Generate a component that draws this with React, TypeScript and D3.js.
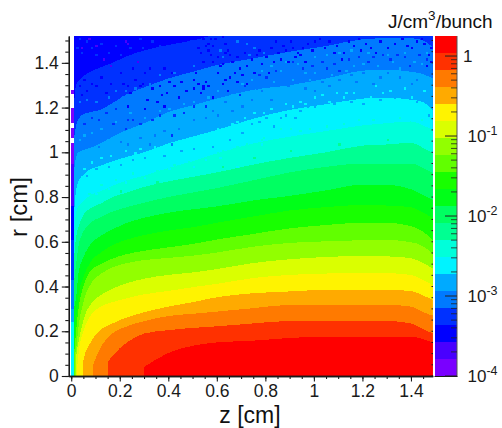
import { useEffect, useRef } from "react";
import * as d3 from "d3";

// 20 contour colours, lowest level first
const levelColors = [
  "#7a00ff", "#4900ff", "#0000ff", "#0031ff", "#007aff", "#00aaff", "#00f3ff", "#00ffda", "#00ff92", "#00ff61",
  "#00ff18", "#18ff00", "#61ff00", "#92ff00", "#daff00", "#fff300", "#ffaa00", "#ff7a00", "#ff3100", "#ff0000",
];

// z positions (cm) where the upper edge of each colour band was read
const zGrid = [0.01, 0.02, 0.03, 0.05, 0.08, 0.12, 0.17, 0.23, 0.3, 0.4, 0.5, 0.6, 0.75, 0.9, 1.05, 1.2, 1.3, 1.4, 1.45, 1.49];

// upper edge r (cm) of each band, 0 = band not reached yet
const top3 = [1.2, 1.3, 1.32, 1.34, 1.36, 1.38, 1.4, 1.43, 1.455, 1.48, 1.5, 1.53, 1.6, 1.6, 1.6, 1.6, 1.6, 1.6, 1.6, 1.6];
const top4 = [1.05, 1.12, 1.15, 1.17, 1.18, 1.19, 1.22, 1.26, 1.29, 1.33, 1.36, 1.39, 1.42, 1.45, 1.475, 1.505, 1.51, 1.51, 1.5, 1.47];
const top5 = [0.9, 0.98, 1, 1.01, 1.02, 1.04, 1.07, 1.1, 1.13, 1.18, 1.21, 1.24, 1.28, 1.3, 1.33, 1.365, 1.37, 1.36, 1.35, 1.33];
const top6 = [0.7, 0.83, 0.87, 0.9, 0.925, 0.94, 0.96, 0.98, 1, 1.04, 1.07, 1.1, 1.15, 1.19, 1.215, 1.24, 1.245, 1.235, 1.225, 1.19];
const top7 = [0.6, 0.73, 0.76, 0.78, 0.81, 0.825, 0.85, 0.875, 0.895, 0.93, 0.96, 0.995, 1.04, 1.07, 1.095, 1.12, 1.13, 1.138, 1.12, 1.1];
const top8 = [0.5, 0.62, 0.665, 0.72, 0.75, 0.77, 0.8, 0.82, 0.845, 0.87, 0.89, 0.91, 0.945, 0.975, 1, 1.03, 1.035, 1.042, 1.02, 0.997];
const top9 = [0.4, 0.5, 0.58, 0.645, 0.685, 0.71, 0.735, 0.755, 0.775, 0.8, 0.82, 0.84, 0.875, 0.91, 0.935, 0.95, 0.95, 0.95, 0.93, 0.908];
const top10 = [0.3, 0.35, 0.46, 0.53, 0.59, 0.625, 0.655, 0.685, 0.707, 0.73, 0.745, 0.758, 0.785, 0.805, 0.83, 0.855, 0.855, 0.835, 0.81, 0.787];
const top11 = [0, 0.25, 0.36, 0.44, 0.51, 0.55, 0.585, 0.61, 0.63, 0.65, 0.665, 0.685, 0.713, 0.74, 0.755, 0.765, 0.762, 0.755, 0.73, 0.707];
const top12 = [0, 0.2, 0.3, 0.4, 0.47, 0.5, 0.525, 0.545, 0.56, 0.575, 0.59, 0.61, 0.635, 0.66, 0.675, 0.685, 0.685, 0.67, 0.645, 0.608];
const top13 = [0, 0.12, 0.22, 0.33, 0.41, 0.455, 0.485, 0.505, 0.518, 0.528, 0.538, 0.552, 0.578, 0.595, 0.602, 0.607, 0.608, 0.598, 0.58, 0.545];
const top14 = [0, 0.08, 0.15, 0.25, 0.32, 0.36, 0.39, 0.415, 0.435, 0.452, 0.463, 0.478, 0.505, 0.522, 0.532, 0.537, 0.535, 0.527, 0.505, 0.48];
const top15 = [0, 0, 0.1, 0.2, 0.27, 0.31, 0.33, 0.348, 0.365, 0.38, 0.397, 0.412, 0.438, 0.452, 0.458, 0.462, 0.46, 0.452, 0.43, 0.405];
const top16 = [0, 0, 0, 0.07, 0.15, 0.205, 0.235, 0.262, 0.285, 0.31, 0.33, 0.352, 0.37, 0.378, 0.385, 0.385, 0.385, 0.38, 0.36, 0.34];
const top17 = [0, 0, 0, 0, 0, 0.125, 0.19, 0.222, 0.245, 0.268, 0.278, 0.288, 0.303, 0.318, 0.318, 0.318, 0.318, 0.31, 0.285, 0.27];
const top18 = [0, 0, 0, 0, 0, 0, 0.09, 0.15, 0.19, 0.205, 0.215, 0.222, 0.235, 0.246, 0.246, 0.246, 0.246, 0.235, 0.21, 0.19];
const top19 = [0, 0, 0, 0, 0, 0, 0, 0, 0, 0.103, 0.135, 0.15, 0.158, 0.17, 0.176, 0.176, 0.176, 0.176, 0.165, 0.15];

const bandLevels = [3, 4, 5, 6, 7, 8, 9, 10, 11, 12, 13, 14, 15, 16, 17, 18, 19];
const bandTops = [top3, top4, top5, top6, top7, top8, top9, top10, top11, top12, top13, top14, top15, top16, top17, top18, top19];

// where the warm bands rise off their left edge: z, r
const footZ = [0, 0, 0, 0, 0, 0, 0, 0, 0.01, 0.012, 0.015, 0.018, 0.025, 0.048, 0.09, 0.15, 0.3];
const footR = [0, 0, 0, 0, 0, 0, 0, 0, 0.15, 0.1, 0.1, 0.05, 0.04, 0.05, 0.05, 0.06, 0.04];

// first column (z 0 to 0.01): r from, r to, level
const firstColumn = [
  [0, 0.24, 6], [0.24, 0.3, 5], [0.3, 0.43, 4], [0.43, 0.61, 3], [0.61, 0.76, 2], [0.76, 0.95, 1], [0.95, 1.04, 0],
  [1.065, 1.11, 0], [1.13, 1.2, 0], [1.26, 1.28, 0],
];

// stray bins in the noisy upper part, as z, r pairs per level
const strayLevel1 = [0.22, 1.49, 0.23, 1.48, 0.27, 1.4, 0.1, 1.47, 0.07, 1.5, 0.13, 1.41, 0.16, 1.38, 0.04, 1.46];
const strayLevel2 = [
  0.54, 1.5, 0.57, 1.5, 0.59, 1.5, 0.62, 1.51, 0.63, 1.48, 0.56, 1.48, 0.58, 1.47, 0.64, 1.45, 0.63, 1.44, 0.57, 1.43,
  0.54, 1.4, 0.58, 1.4, 0.61, 1.38, 0.65, 1.43, 0.71, 1.44, 0.74, 1.41, 0.78, 1.39, 0.85, 1.44, 0.83, 1.4, 0.81, 1.35,
  0.86, 1.41, 0.9, 1.49, 0.93, 1.44, 0.94, 1.43, 0.84, 1.49, 0.96, 1.4, 1.02, 1.5, 1, 1.49, 1.09, 1.47, 1.12, 1.44,
  1.11, 1.41, 1.19, 1.45, 1.23, 1.46, 1.25, 1.44, 1.33, 1.48, 1.42, 1.49, 1.45, 1.48, 1.48, 1.46, 1.48, 1.4, 0.63, 1.32,
  0.65, 1.33, 0.55, 1.31, 0.54, 1.29, 0.58, 1.24, 0.72, 1.3, 0.67, 1.35, 0.75, 1.35, 0.57, 1.32, 0.56, 1.29, 0.2, 1.35,
  0.25, 1.37, 0.3, 1.35, 0.32, 1.37, 0.38, 1.37, 0.41, 1.35, 0.23, 1.29, 0.29, 1.3, 0.36, 1.29, 0.45, 1.31, 0.5, 1.32,
  0.54, 1.28, 0.39, 1.26, 0.3, 1.19, 0.38, 1.2, 0.23, 1.2, 0.52, 1.46, 0.53, 1.44, 0.55, 1.47, 0.56, 1.45, 0.6, 1.42,
  0.62, 1.39, 0.66, 1.4, 0.68, 1.42, 0.69, 1.37, 0.72, 1.38, 0.76, 1.43, 0.77, 1.45, 0.8, 1.42, 0.82, 1.46, 0.87, 1.47,
  0.88, 1.45, 0.89, 1.4, 0.91, 1.46, 0.92, 1.42, 0.95, 1.46, 0.97, 1.48, 0.99, 1.45, 1.04, 1.46, 1.06, 1.49, 1.08, 1.44,
  1.14, 1.49, 1.16, 1.47, 1.18, 1.5, 1.21, 1.48, 1.27, 1.49, 1.3, 1.46, 1.36, 1.5, 1.38, 1.47, 1.4, 1.46, 1.44, 1.5,
  1.47, 1.43, 1.46, 1.38, 0.6, 1.35, 0.62, 1.3, 0.64, 1.27, 0.68, 1.31, 0.7, 1.34, 0.52, 1.3, 0.53, 1.26, 0.51, 1.35,
  0.5, 1.28, 0.47, 1.27, 0.44, 1.24, 0.42, 1.29, 0.4, 1.31, 0.37, 1.25, 0.35, 1.22, 0.33, 1.28, 0.31, 1.23, 0.28, 1.29,
  0.26, 1.32, 0.24, 1.26, 0.21, 1.3, 0.16, 1.3, 0.14, 1.26, 0.12, 1.33, 0.1, 1.29, 0.08, 1.3, 0.06, 1.27, 0.05, 1.32,
  0.04, 1.25, 0.03, 1.29,
];
const strayLevel3 = [
  0.36, 1.47, 0.31, 1.44, 0.34, 1.41, 0.43, 1.44, 0.49, 1.49, 0.54, 1.46, 0.47, 1.38, 0.28, 1.5, 0.39, 1.43, 0.23, 1.14,
  0.25, 1.14, 0.41, 1.07, 0.45, 1.41, 0.47, 1.44, 0.5, 1.42, 0.52, 1.49, 0.41, 1.47, 0.37, 1.43, 0.33, 1.49, 0.29, 1.46,
  0.26, 1.42, 0.24, 1.46, 0.2, 1.43, 0.18, 1.47, 0.15, 1.44, 0.12, 1.48, 0.1, 1.43, 0.08, 1.46, 0.06, 1.49, 0.04, 1.44,
  0.03, 1.5, 0.02, 1.46, 0.91, 1.4, 0.95, 1.37, 0.99, 1.38, 1.03, 1.4, 1.05, 1.37, 1.08, 1.39, 1.1, 1.36, 1.14, 1.41,
  1.18, 1.42, 1.22, 1.4, 1.24, 1.42, 1.28, 1.43, 1.31, 1.41, 1.34, 1.43, 1.37, 1.42, 1.39, 1.38, 1.43, 1.43, 1.46, 1.41,
  0.69, 1.25, 0.71, 1.29, 0.77, 1.34, 0.8, 1.33, 0.84, 1.36, 0.55, 1.2, 0.5, 1.2, 0.46, 1.17, 0.42, 1.16, 0.36, 1.16,
  0.33, 1.14, 0.28, 1.12, 0.22, 1.1, 0.17, 1.12, 0.14, 1.17, 0.11, 1.14, 0.08, 1.15, 0.05, 1.12, 0.03, 1.17, 0.07, 1.2,
  0.12, 1.22, 0.18, 1.19,
];
const strayLevel4 = [
  1.17, 1.31, 1.27, 1.33, 1.4, 1.3, 0.66, 1.27, 0.76, 1.28, 0.85, 1.29, 0.82, 1.23, 0.74, 1.23, 0.63, 1.22, 0.78, 1.27,
  0.89, 1.29, 0.28, 1.26, 0.34, 1.26, 0.44, 1.32, 0.48, 1.3, 0.53, 1.33, 0.57, 1.32, 0.65, 1.35, 0.21, 1.24, 0.25, 1.23,
  0.41, 1.26, 0.23, 1.03, 0.32, 1.03, 0.41, 1.03, 0.55, 1.35, 0.6, 1.38, 0.62, 1.42, 0.66, 1.37, 0.7, 1.4, 0.73, 1.43,
  0.75, 1.46, 0.79, 1.44, 0.72, 1.48, 0.68, 1.49, 0.61, 1.45, 0.5, 1.38, 0.47, 1.33, 0.42, 1.35, 0.38, 1.31, 0.36, 1.34,
  0.32, 1.3, 0.26, 1.28, 0.22, 1.27, 0.15, 1.24, 0.18, 1.27, 0.1, 1.22, 0.06, 1.23, 0.03, 1.22, 0.96, 1.28, 1, 1.27,
  1.03, 1.31, 1.06, 1.29, 1.1, 1.32, 1.15, 1.34, 1.2, 1.35, 1.24, 1.3, 1.3, 1.35, 1.35, 1.33, 1.42, 1.32, 1.46, 1.34,
  0.7, 1.2, 0.66, 1.18, 0.6, 1.16, 0.58, 1.18, 0.55, 1.15, 0.5, 1.14, 0.44, 1.1, 0.38, 1.09, 0.34, 1.07, 0.28, 1.06,
  0.2, 1.04, 0.15, 1.06, 0.11, 1.02, 0.07, 1.05, 0.05, 1.02,
];
const strayLevel5 = [
  1.16, 1.38, 1.2, 1.39, 1.26, 1.38, 1.32, 1.4, 1.35, 1.37, 1.13, 1.36, 1.07, 1.34, 1, 1.35, 0.96, 1.35, 0.86, 1.36,
  1.41, 1.4, 1.44, 1.39, 0.98, 1.32, 0.91, 1.32, 0.83, 1.31, 0.92, 1.15, 0.86, 1.15, 0.97, 1.2, 1.03, 1.21, 0.77, 1.13,
  0.83, 1.11, 0.57, 1.12, 0.54, 1.14, 0.32, 1.12, 0.35, 1.1, 0.21, 1.07, 0.45, 1.07, 0.38, 1.13, 0.53, 1.16, 0.7, 1.3,
  0.74, 1.32, 0.78, 1.36, 0.82, 1.38, 0.88, 1.4, 0.93, 1.39, 1, 1.42, 1.05, 1.43, 1.1, 1.44, 1.15, 1.45, 1.22, 1.44,
  1.3, 1.43, 1.37, 1.44, 1.46, 1.44, 0.66, 1.25, 0.6, 1.27, 0.56, 1.24, 0.5, 1.22, 0.46, 1.21, 0.4, 1.19, 0.36, 1.18,
  0.3, 1.15, 0.24, 1.17, 0.18, 1.13, 0.12, 1.1, 0.08, 1.08, 0.05, 1.07, 0.03, 1.05, 0.65, 1.05, 0.7, 1.08, 0.74, 1.12,
  0.8, 1.15, 0.88, 1.16, 0.94, 1.18, 1, 1.2, 1.08, 1.21, 1.15, 1.22, 1.2, 1.21, 1.27, 1.23, 1.33, 1.24, 1.42, 1.22,
  1.47, 1.16, 0.58, 1.02, 0.5, 1.01, 0.45, 1, 0.38, 0.98, 0.3, 0.97, 0.25, 0.96, 0.2, 0.94, 0.15, 0.93, 0.1, 0.92,
  0.06, 0.89,
];
const strayLevel6 = [
  1.31, 1.27, 1.28, 1.26, 1.12, 1.24, 1.13, 1.26, 1.2, 1.23, 1.23, 1.24, 1.35, 1.23, 1.4, 1.24, 1, 1.24, 1.06, 1.22,
  0.91, 1.2, 0.96, 1.21, 0.86, 1.17, 0.79, 1.17, 0.71, 1.15, 0.63, 1.1, 0.58, 1.07, 0.78, 1.03, 0.61, 0.97, 0.68, 0.93,
  0.26, 0.99, 0.37, 0.99, 0.43, 1.03, 0.52, 1.06, 0.57, 1.08, 0.61, 1.09, 0.68, 1.13, 1.45, 1.27, 1.37, 1.28, 1.25, 1.29,
  1.16, 1.26, 1.09, 1.26, 1.03, 1.25, 0.94, 1.22, 0.88, 1.21, 0.82, 1.19, 0.75, 1.17, 0.66, 1.12, 0.6, 1.1, 0.54, 1.07,
  0.48, 1.05, 0.4, 1.03, 0.34, 1.02, 0.28, 1.01, 0.22, 1, 0.16, 0.98, 0.12, 0.97, 0.08, 0.95, 0.05, 0.92, 0.5, 0.93,
  0.55, 0.96, 0.65, 1.01, 0.72, 1.05, 0.82, 1.08, 0.9, 1.1, 1, 1.12, 1.1, 1.12, 1.2, 1.15, 1.3, 1.15, 1.4, 1.15,
  0.4, 0.92, 0.3, 0.88, 0.22, 0.86, 0.15, 0.83, 0.1, 0.81,
];
const strayLevel7 = [
  1.12, 1.12, 1.24, 1.14, 0.94, 1.09, 0.79, 1.06, 0.72, 1.03, 0.6, 0.99, 0.86, 1.1, 1.44, 1.14, 1.35, 1.15, 1.18, 1.14,
  1.05, 1.11, 0.98, 1.1, 0.9, 1.1, 0.78, 1.05, 0.68, 1.02, 0.62, 1, 0.55, 0.97, 0.48, 0.95, 0.42, 0.94, 0.35, 0.91,
  0.25, 0.9, 0.18, 0.87, 0.12, 0.85, 0.07, 0.81, 0.5, 0.89, 0.7, 0.94, 0.85, 0.97, 1, 1.01, 1.2, 1.04,
];
const strayLevel8 = [0.62, 0.93, 0.75, 0.97, 0.9, 1, 1.1, 1.03, 1.3, 1.05, 0.35, 0.86, 0.2, 0.82];

const strayLevels = [1, 2, 3, 4, 5, 6, 7, 8];
const strayBins = [strayLevel1, strayLevel2, strayLevel3, strayLevel4, strayLevel5, strayLevel6, strayLevel7, strayLevel8];

const zTicks = [0, 0.2, 0.4, 0.6, 0.8, 1, 1.2, 1.4];
const zMinorTicks = d3.range(0, 30).map((i) => i * 0.05);
const rTicks = [0, 0.2, 0.4, 0.6, 0.8, 1, 1.2, 1.4];
const rMinorTicks = d3.range(0, 31).map((i) => i * 0.05);
const paletteLabels = [
  { value: 1, base: "1", exp: "" },
  { value: 0.1, base: "10", exp: "-1" },
  { value: 0.01, base: "10", exp: "-2" },
  { value: 0.001, base: "10", exp: "-3" },
  { value: 0.0001, base: "10", exp: "-4" },
];
const paletteMax = 1.78;

const font = "'Liberation Sans', Arial, sans-serif";

export default function App() {
  const chartRef = useRef<SVGSVGElement | null>(null);

  useEffect(() => {
    if (!chartRef.current) return;

    const svg = d3.select(chartRef.current).html("").attr("width", 502).attr("height", 428);

    const xScale = d3.scaleLinear().domain([-0.01, 1.49]).range([68.8, 432.8]);
    const yScale = d3.scaleLinear().domain([0, 1.52]).range([376, 36]);
    const binW = xScale(0.01) - xScale(0);
    const binH = yScale(0) - yScale(0.01);

    svg.append("defs").append("clipPath").attr("id", "frame")
      .append("rect").attr("x", 68.8).attr("y", 36).attr("width", 364).attr("height", 340);

    const plot = svg.append("g").attr("clip-path", "url(#frame)").attr("shape-rendering", "crispEdges");

    // Base colour under all bands
    plot.append("rect")
      .attr("x", xScale(0.01)).attr("y", 36)
      .attr("width", xScale(1.49) - xScale(0.01)).attr("height", 340)
      .attr("fill", levelColors[2]);

    const area = d3.area<[number, number]>()
      .x((d) => xScale(d[0]))
      .y0(yScale(0))
      .y1((d) => yScale(d[1]))
      .curve(d3.curveMonotoneX);

    // Bands, painted cold to hot
    bandTops.forEach((tops, i) => {
      const pts: [number, number][] = [];
      if (footZ[i] > 0) pts.push([footZ[i], footR[i]]);
      zGrid.forEach((z, j) => {
        if (z > footZ[i] && tops[j] > 0) pts.push([z, tops[j]]);
      });
      plot.append("path").attr("d", area(pts)).attr("fill", levelColors[bandLevels[i]]);
    });

    // First column
    firstColumn.forEach(([r0, r1, level]) => {
      plot.append("rect")
        .attr("x", xScale(0)).attr("y", yScale(r1))
        .attr("width", binW).attr("height", yScale(r0) - yScale(r1))
        .attr("fill", levelColors[level]);
    });

    // Stray bins
    strayBins.forEach((bins, i) => {
      for (let k = 0; k < bins.length; k += 2) {
        plot.append("rect")
          .attr("x", xScale(bins[k])).attr("y", yScale(bins[k + 1]) - binH)
          .attr("width", binW).attr("height", binH)
          .attr("fill", levelColors[strayLevels[i]]);
      }
    });

    const axisColor = "#1a1a1a";
    const styleAxis = (g: any) => {
      g.selectAll("path").attr("stroke", axisColor).attr("stroke-width", 1.3);
      g.selectAll("line").attr("stroke", axisColor).attr("stroke-width", 1.1);
      g.selectAll("text").attr("font-family", font).attr("font-size", 17.5).attr("fill", "#1a1a1a");
    };
    const noLabels = () => "";
    const fmt = (d: any) => String(+(+d).toFixed(1));

    // x axis
    svg.append("g").attr("transform", "translate(0,376)")
      .call(d3.axisBottom(xScale).tickValues(zMinorTicks).tickSize(3).tickFormat(noLabels as any).tickSizeOuter(0))
      .call(styleAxis);
    svg.append("g").attr("transform", "translate(0,376)")
      .call(d3.axisBottom(xScale).tickValues(zTicks).tickSize(5.5).tickPadding(3.5).tickFormat(fmt).tickSizeOuter(0))
      .call(styleAxis);

    // y axis
    svg.append("g").attr("transform", "translate(68.8,0)")
      .call(d3.axisLeft(yScale).tickValues(rMinorTicks).tickSize(3.5).tickFormat(noLabels as any).tickSizeOuter(0))
      .call(styleAxis);
    svg.append("g").attr("transform", "translate(68.8,0)")
      .call(d3.axisLeft(yScale).tickValues(rTicks).tickSize(7).tickPadding(3).tickFormat(fmt).tickSizeOuter(0))
      .call(styleAxis);

    // Mirrored ticks on the right side of the frame
    svg.append("g").selectAll("line").data(rMinorTicks).join("line")
      .attr("x1", 431.5).attr("x2", 433)
      .attr("y1", (d) => yScale(d)).attr("y2", (d) => yScale(d))
      .attr("stroke", axisColor);

    // Axis titles
    svg.append("text").attr("x", 250).attr("y", 422.5).attr("text-anchor", "middle")
      .attr("font-family", font).attr("font-size", 23).attr("fill", "#111").text("z [cm]");
    svg.append("text").attr("transform", "translate(27,207) rotate(-90)").attr("text-anchor", "middle")
      .attr("font-family", font).attr("font-size", 24).attr("fill", "#111").text("r [cm]");

    // Palette
    const palette = d3.scaleLog().domain([1e-4, paletteMax]).range([376, 36]);
    const nLevels = levelColors.length;
    const bandEdge = d3.scaleLinear().domain([0, nLevels]).range([376, 36]);
    svg.append("g").attr("shape-rendering", "crispEdges").selectAll("rect").data(levelColors).join("rect")
      .attr("x", 434.5).attr("width", 22.5)
      .attr("y", (_, i) => bandEdge(i + 1))
      .attr("height", (_, i) => bandEdge(i) - bandEdge(i + 1))
      .attr("fill", (d) => d);

    svg.append("line").attr("x1", 457).attr("x2", 457).attr("y1", 36).attr("y2", 376.5)
      .attr("stroke", "#555").attr("stroke-width", 1);
    svg.append("line").attr("x1", 434.5).attr("x2", 457.5).attr("y1", 376.5).attr("y2", 376.5)
      .attr("stroke", axisColor).attr("stroke-width", 1);

    const logMinor = d3.range(-4, 1).flatMap((e) => d3.range(2, 10).map((m) => m * Math.pow(10, e))).filter((v) => v < paletteMax);
    svg.append("g").selectAll("line").data(logMinor).join("line")
      .attr("x1", 451).attr("x2", 457)
      .attr("y1", (d) => palette(d)).attr("y2", (d) => palette(d))
      .attr("stroke", "#222").attr("stroke-opacity", 0.8);
    svg.append("g").selectAll("line").data(paletteLabels).join("line")
      .attr("x1", 445).attr("x2", 457)
      .attr("y1", (d) => palette(d.value)).attr("y2", (d) => palette(d.value))
      .attr("stroke", "#222");

    paletteLabels.forEach((d) => {
      const label = svg.append("text")
        .attr("x", d.exp ? 467.5 : 463).attr("y", palette(d.value) + 6)
        .attr("font-family", font).attr("font-size", 17).attr("fill", "#1a1a1a")
        .text(d.base);
      if (d.exp) label.append("tspan").attr("dy", -7).attr("font-size", 12.5).text(d.exp);
    });

    // Palette title
    const title = svg.append("text").attr("x", 388).attr("y", 28)
      .attr("font-family", font).attr("font-size", 19).attr("fill", "#111").text("J/cm");
    title.append("tspan").attr("dy", -8).attr("font-size", 13.5).text("3");
    title.append("tspan").attr("dy", 8).text("/bunch");
  }, []);

  return <svg ref={chartRef} style={{ position: "absolute", left: 0, top: 0 }}></svg>;
}
